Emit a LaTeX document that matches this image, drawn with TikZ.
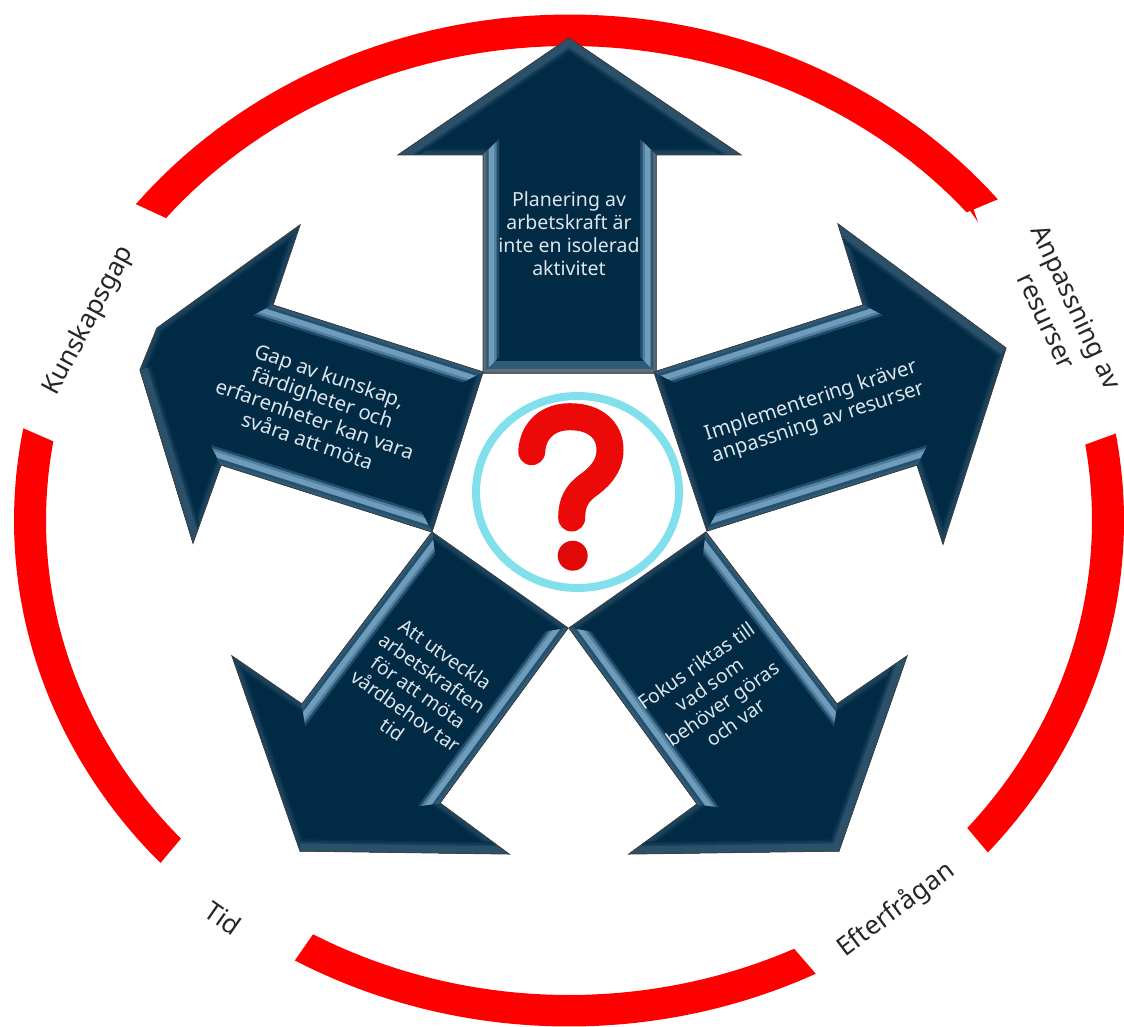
\documentclass[tikz,border=0pt]{standalone}
\usepackage{fontspec}
\setmainfont{Noto Sans}
\usetikzlibrary{calc}
\definecolor{navy}{HTML}{012A44}
\definecolor{glowa}{HTML}{07304B}
\definecolor{glowb}{HTML}{103852}
\definecolor{glowc}{HTML}{1B425C}
\definecolor{headband}{HTML}{2A506A}
\definecolor{bandlight}{HTML}{6E9CBA}
\definecolor{bandmid}{HTML}{507F9E}
\definecolor{bandfade}{HTML}{1F4C6A}
\definecolor{bandouter}{HTML}{2F5B78}
\definecolor{bandgray}{HTML}{5F707C}
\definecolor{ringred}{HTML}{FF0000}
\definecolor{qred}{HTML}{EC0A08}
\definecolor{qcirc}{HTML}{82DFEC}
\definecolor{edgeline}{HTML}{3C4246}
\definecolor{intext}{HTML}{DCE6EC}
\definecolor{outtext}{HTML}{262626}
\tikzset{
  arrowtext/.style={text=intext,font=\fontsize{19.5}{23}\selectfont,align=center,inner sep=0pt},
  widetext/.style={arrowtext,font=\fontsize{20.3}{23}\selectfont},
  ringlabel/.style={text=outtext,font=\fontsize{26}{33}\selectfont,align=center,inner sep=0pt},
  outline/.style={draw=edgeline,line width=1pt,line join=miter}
}
\newcommand{\ringseg}[4]{%
  \fill[ringred] plot[domain=#1:#2,samples=70] ({569+555*cos(\x)},{520.5+506*sin(\x)})
    -- plot[domain=#4:#3,samples=70] ({569+523*cos(\x)},{520.5+474.5*sin(\x)}) -- cycle;}
\newcommand{\bandlayer}[6]{% A,N,sign,inner offset,outer offset,colour
  \coordinate (ue) at ($(#2)!-#5!(#1)$);
  \fill[#6] ($(#1)!#4!(#2)!#3*#4!90:(#2)$) -- ($(#2)!-#4!(#1)!#3*-#4!90:(#1)$)
     -- ($(ue)!#3*-#5!90:(#1)$) -- ($(#1)!#5!(#2)!#3*#5!90:(#2)$) -- cycle;}
\newcommand{\shaftband}[4]{%
  \bandlayer{#1}{#2}{#3}{0pt}{16pt}{bandfade}
  \bandlayer{#1}{#2}{#3}{0pt}{13.5pt}{bandmid}
  \bandlayer{#1}{#2}{#3}{5.5pt}{11pt}{bandlight}
  \bandlayer{#1}{#2}{#3}{0pt}{2.5pt}{#4}
  \bandlayer{#1}{#2}{#3}{2.5pt}{5.5pt}{bandfade!70!#4}}
\newcommand{\arrowbody}[2]{%
  \begin{scope}
    \clip #1 -- cycle;
    \fill[navy] #1 -- cycle;
    \draw[glowa,line width=13pt,line join=miter] #1 -- cycle;
    \draw[glowb,line width=10pt,line join=miter] #1 -- cycle;
    \draw[glowc,line width=7pt,line join=miter] #1 -- cycle;
    \draw[glowa,line width=24pt,line join=miter] #2;
    \draw[glowb,line width=21pt,line join=miter] #2;
    \draw[glowc,line width=18pt,line join=miter] #2;
    \draw[headband,line width=15pt,line join=miter] #2;
  \end{scope}}
\begin{document}
\begin{tikzpicture}[x=1pt,y=-1pt]
\path[use as bounding box] (0,0) rectangle (1124,1027);
% ring
\ringseg{218.7}{320.6}{219.6}{319.5}
\fill[ringred] (973,208) -- (978,222) -- (966,205) -- cycle;
\ringseg{190.5}{137.4}{189.6}{137.9}
\ringseg{119.6}{63.6}{119.3}{64.5}
\ringseg{41}{-9.9}{40.4}{-9.2}
% top arrow
\coordinate (ta) at (569,38);
\coordinate (tb) at (741,155);
\coordinate (tc) at (656,155);
\coordinate (td) at (656,373);
\coordinate (te) at (483,373);
\coordinate (tf) at (483,155);
\coordinate (tg) at (398,155);
\arrowbody{(ta)--(tb)--(tc)--(td)--(te)--(tf)--(tg)}{(tg)--(ta)--(tb)}
\fill[bandouter] (te) -- (td) -- (644,361) -- (495,361) -- cycle;
\fill[bandgray] (te) -- (td) -- (652,369) -- (487,369) -- cycle;
\shaftband{te}{tf}{-1}{bandgray}
\shaftband{td}{tc}{1}{bandgray}
\draw[outline] (ta)--(tb)--(tc)--(td)--(te)--(tf)--(tg)--cycle;
% right arrow
\coordinate (ra) at (654,372);
\coordinate (rb) at (863,305);
\coordinate (rc) at (838,224);
\coordinate (rd) at (1006,348);
\coordinate (re) at (943,544);
\coordinate (rf) at (917,465);
\coordinate (rg) at (707,531);
\arrowbody{(ra)--(rb)--(rc)--(rd)--(re)--(rf)--(rg)}{(rc)--(rd)}
\shaftband{ra}{rb}{-1}{bandouter}
\shaftband{rg}{rf}{1}{bandouter}
\draw[outline] (ra)--(rb)--(rc)--(rd)--(re)--(rf)--(rg)--cycle;
% lower right arrow
\coordinate (pa) at (706,532);
\coordinate (pb) at (837,704);
\coordinate (pc) at (907,656);
\coordinate (pd) at (839,851);
\coordinate (pe) at (629,854);
\coordinate (pf) at (697,804);
\coordinate (pg) at (569,628);
\arrowbody{(pa)--(pb)--(pc)--(pd)--(pe)--(pf)--(pg)}{(pc)--(pd)--(pe)}
\shaftband{pa}{pb}{-1}{bandouter}
\shaftband{pg}{pf}{1}{bandouter}
\draw[outline] (pa)--(pb)--(pc)--(pd)--(pe)--(pf)--(pg)--cycle;
% lower left arrow
\coordinate (qa) at (432,532);
\coordinate (qb) at (568,628);
\coordinate (qc) at (440,803);
\coordinate (qd) at (509,854);
\coordinate (qe) at (300,851);
\coordinate (qf) at (232,656);
\coordinate (qg) at (302,704);
\arrowbody{(qa)--(qb)--(qc)--(qd)--(qe)--(qf)--(qg)}{(qd)--(qe)}
\shaftband{qa}{qg}{1}{bandouter}
\shaftband{qb}{qc}{-1}{bandouter}
\draw[outline] (qa)--(qb)--(qc)--(qd)--(qe)--(qf)--(qg)--cycle;
% left arrow
\coordinate (la) at (483,372);
\coordinate (lb) at (432,532);
\coordinate (lc) at (221,465);
\coordinate (ld) at (193,543);
\coordinate (le) at (140,370);
\coordinate (lf) at (157,328);
\coordinate (lg) at (300,225);
\coordinate (lh) at (273,305);
\arrowbody{(la)--(lb)--(lc)--(ld)--(le)--(lf)--(lg)--(lh)}{(ld)--(le)}
\shaftband{la}{lh}{1}{bandouter}
\shaftband{lb}{lc}{-1}{bandouter}
\draw[outline] (la)--(lb)--(lc)--(ld)--(le)--(lf)--(lg)--(lh)--cycle;
% centre
\draw[qcirc,line width=8pt] (577.5,492) ellipse [x radius=101.5,y radius=96];
\draw[qred,line width=27pt,line cap=round] (531.7,451.7) .. controls (533,430) and (548,416.7) .. (570,416.7)
  .. controls (595,416.7) and (610,430) .. (610,450) .. controls (610,468) and (597,479) .. (587,486)
  .. controls (577,494) and (571.7,502) .. (571.7,518);
\fill[qred!95!black] (572.7,555.7) circle [radius=15];
% texts
\node[arrowtext] (ttop) at (569,234) {Planering av\\arbetskraft är\\inte en isolerad\\aktivitet};
\node[widetext,rotate=18] (tright) at (815,412) {Implementering kräver\\anpassning av resurser};
\node[arrowtext,rotate=35] (tlr) at (716,694) {Fokus riktas till\\vad som\\behöver göras\\och var};
\node[arrowtext,rotate=-35] (tll) at (419,692) {Att utveckla\\arbetskraften\\för att möta\\vårdbehov tar\\tid};
\node[widetext,rotate=-19] (tleft) at (319,408) {Gap av kunskap,\\färdigheter och\\erfarenheter kan vara\\svåra att möta};
\node[ringlabel,rotate=62] (lk) at (89,321) {Kunskapsgap};
\node[ringlabel,rotate=-65] (la2) at (1062,314) {Anpassning av\\resurser};
\node[ringlabel,rotate=-35] (lt) at (223,918) {Tid};
\node[ringlabel,rotate=37] (lef) at (896,910) {Efterfrågan};
\end{tikzpicture}
\end{document}
